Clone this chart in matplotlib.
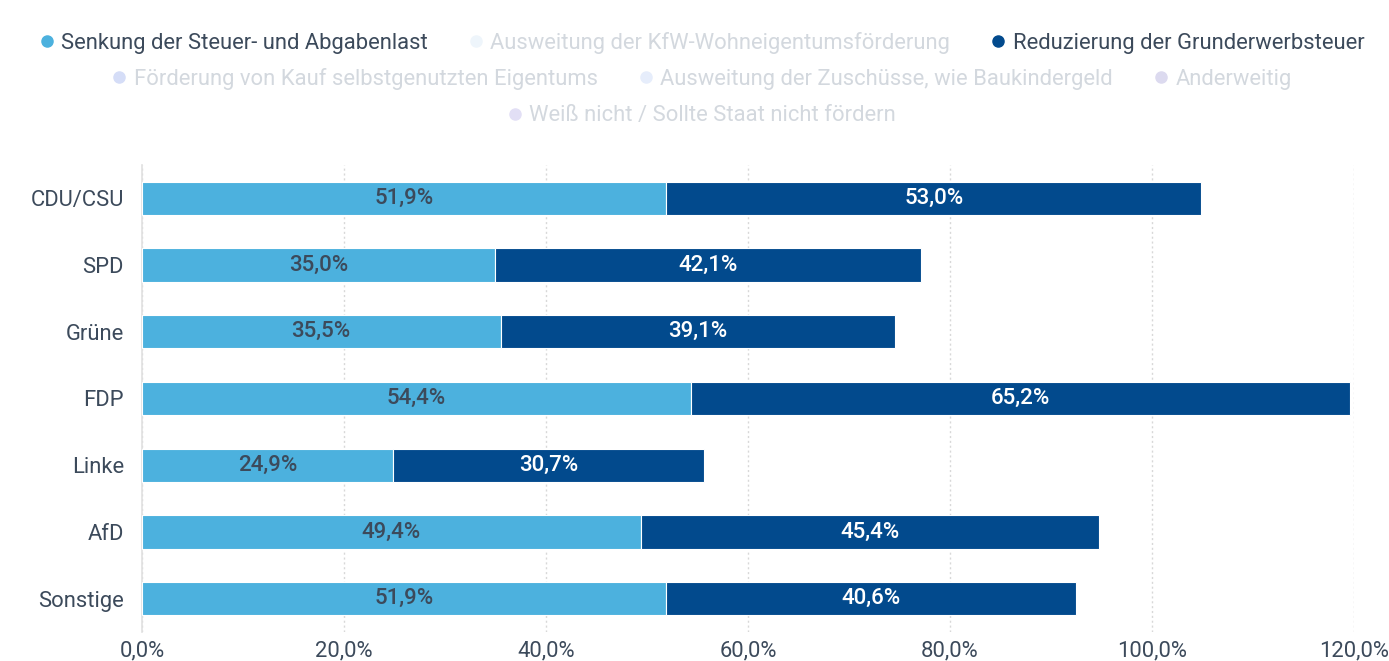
import matplotlib
matplotlib.use("Agg")
import matplotlib.pyplot as plt
from matplotlib.lines import Line2D
from matplotlib.ticker import FuncFormatter

plt.rcParams['font.family'] = ['Roboto', 'DejaVu Sans']

categories = ["CDU/CSU", "SPD", "Grüne", "FDP", "Linke", "AfD", "Sonstige"]
senkung = [51.9, 35.0, 35.5, 54.4, 24.9, 49.4, 51.9]
reduzierung = [53.0, 42.1, 39.1, 65.2, 30.7, 45.4, 40.6]

legend_rows = [
    [("Senkung der Steuer- und Abgabenlast", "#4cb1de", True),
     ("Ausweitung der KfW-Wohneigentumsförderung", "#eef5fb", False),
     ("Reduzierung der Grunderwerbsteuer", "#024a8d", True)],
    [("Förderung von Kauf selbstgenutzten Eigentums", "#d5ddf7", False),
     ("Ausweitung der Zuschüsse, wie Baukindergeld", "#e6edfb", False),
     ("Anderweitig", "#dcdaef", False)],
    [("Weiß nicht / Sollte Staat nicht fördern", "#e2dff5", False)],
]

light = "#4cb1de"
dark = "#024a8d"
text_dark = "#3c4a5b"
text_off = "#d3d8de"

fig = plt.figure(figsize=(13.89, 6.61), dpi=100)
ax = fig.add_axes([0.1022, 0.0439, 0.9748 - 0.1022, 0.7504 - 0.0439])

y = list(range(len(categories)))
b1 = ax.barh(y, senkung, height=0.5, color=light, edgecolor="white", linewidth=0.8, zorder=3)
b2 = ax.barh(y, reduzierung, left=senkung, height=0.5, color=dark, edgecolor="white", linewidth=0.8, zorder=3)

fmt = lambda v: f"{v:.1f}%".replace(".", ",")
for rect, v in zip(b1, senkung):
    ax.text(rect.get_x() + rect.get_width() / 2, rect.get_y() + rect.get_height() / 2, fmt(v),
            ha="center", va="center", fontsize=16, color=text_dark, fontweight="medium", zorder=4)
for rect, v in zip(b2, reduzierung):
    ax.text(rect.get_x() + rect.get_width() / 2, rect.get_y() + rect.get_height() / 2, fmt(v),
            ha="center", va="center", fontsize=16, color="white", fontweight="medium", zorder=4)

ax.set_xlim(0, 120)
ax.set_ylim(6.5, -0.5)
ax.set_xticks([0, 20, 40, 60, 80, 100, 120])
ax.xaxis.set_major_formatter(FuncFormatter(lambda v, p: fmt(v)))
ax.set_yticks(y)
ax.set_yticklabels(categories)
ax.tick_params(axis="both", length=0, labelsize=15.8, labelcolor=text_dark)
ax.tick_params(axis="y", pad=13)
ax.tick_params(axis="x", pad=6)
ax.grid(axis="x", color="#d8d8d8", linestyle=(0, (1.5, 2)), linewidth=1, zorder=0)
for s in ["top", "right", "bottom"]:
    ax.spines[s].set_visible(False)
ax.spines["left"].set_color("#e0e0e0")
ax.spines["left"].set_linewidth(1.2)

row_y = [1 - 43 / 661, 1 - 79 / 661, 1 - 116 / 661]
for row, yy in zip(legend_rows, row_y):
    handles = [Line2D([], [], marker="o", linestyle="", markersize=8, color=c) for _, c, _ in row]
    labels = [t for t, _, _ in row]
    leg = fig.legend(handles, labels, loc="center", bbox_to_anchor=(0.504, yy), ncol=len(row),
                     frameon=False, fontsize=15.8, handletextpad=0.15, columnspacing=1.7,
                     handlelength=1.0, borderaxespad=0, borderpad=0)
    for txt, (_, _, on) in zip(leg.get_texts(), row):
        txt.set_color(text_dark if on else text_off)

fig.savefig("out.png", dpi=100)
